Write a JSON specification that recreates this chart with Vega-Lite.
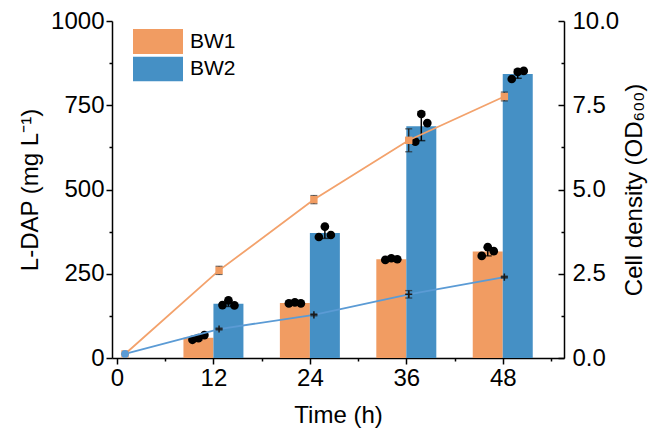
{
  "$schema": "https://vega.github.io/schema/vega-lite/v6.json",
  "width": 452,
  "height": 337,
  "autosize": {"type": "none"},
  "padding": {"left": 112, "top": 21, "right": 98, "bottom": 81},
  "config": {
    "font": "Liberation Sans",
    "view": {"stroke": null},
    "axis": {
      "grid": false,
      "domainColor": "black",
      "tickColor": "black",
      "labelColor": "black",
      "titleColor": "black",
      "labelFont": "Liberation Sans",
      "titleFont": "Liberation Sans",
      "labelFontSize": 24,
      "titleFontSize": 24,
      "titleFontWeight": "normal",
      "domainWidth": 1.5,
      "tickWidth": 1.5,
      "labelFlush": false,
      "labelOverlap": false
    },
    "legend": {"labelFont": "Liberation Sans"}
  },
  "datasets": {
    "bars": [
      {"time": 12, "strain": "BW1", "ldap": 60, "lo": 53, "hi": 67},
      {"time": 12, "strain": "BW2", "ldap": 161, "lo": 153, "hi": 169},
      {"time": 24, "strain": "BW1", "ldap": 163, "lo": 161, "hi": 165},
      {"time": 24, "strain": "BW2", "ldap": 371, "lo": 355, "hi": 387},
      {"time": 36, "strain": "BW1", "ldap": 293, "lo": 290, "hi": 296},
      {"time": 36, "strain": "BW2", "ldap": 688, "lo": 645, "hi": 731},
      {"time": 48, "strain": "BW1", "ldap": 316, "lo": 303, "hi": 329},
      {"time": 48, "strain": "BW2", "ldap": 843, "lo": 830, "hi": 856}
    ],
    "reps": [
      {"time": 12, "strain": "BW1", "rep": 1, "ldap": 54},
      {"time": 12, "strain": "BW1", "rep": 2, "ldap": 59},
      {"time": 12, "strain": "BW1", "rep": 3, "ldap": 68},
      {"time": 12, "strain": "BW2", "rep": 1, "ldap": 157},
      {"time": 12, "strain": "BW2", "rep": 2, "ldap": 171},
      {"time": 12, "strain": "BW2", "rep": 3, "ldap": 156},
      {"time": 24, "strain": "BW1", "rep": 1, "ldap": 162},
      {"time": 24, "strain": "BW1", "rep": 2, "ldap": 165},
      {"time": 24, "strain": "BW1", "rep": 3, "ldap": 162},
      {"time": 24, "strain": "BW2", "rep": 1, "ldap": 359},
      {"time": 24, "strain": "BW2", "rep": 2, "ldap": 390},
      {"time": 24, "strain": "BW2", "rep": 3, "ldap": 365},
      {"time": 36, "strain": "BW1", "rep": 1, "ldap": 291},
      {"time": 36, "strain": "BW1", "rep": 2, "ldap": 296},
      {"time": 36, "strain": "BW1", "rep": 3, "ldap": 293},
      {"time": 36, "strain": "BW2", "rep": 1, "ldap": 642},
      {"time": 36, "strain": "BW2", "rep": 2, "ldap": 724},
      {"time": 36, "strain": "BW2", "rep": 3, "ldap": 697},
      {"time": 48, "strain": "BW1", "rep": 1, "ldap": 303},
      {"time": 48, "strain": "BW1", "rep": 2, "ldap": 329},
      {"time": 48, "strain": "BW1", "rep": 3, "ldap": 317},
      {"time": 48, "strain": "BW2", "rep": 1, "ldap": 828},
      {"time": 48, "strain": "BW2", "rep": 2, "ldap": 849},
      {"time": 48, "strain": "BW2", "rep": 3, "ldap": 852}
    ],
    "od": [
      {"time": 1, "strain": "BW1", "od": 0.12, "lo": 0.12, "hi": 0.12},
      {"time": 12.7, "strain": "BW1", "od": 2.6, "lo": 2.48, "hi": 2.72},
      {"time": 24.5, "strain": "BW1", "od": 4.7, "lo": 4.58, "hi": 4.82},
      {"time": 36.3, "strain": "BW1", "od": 6.46, "lo": 6.12, "hi": 6.8},
      {"time": 48.2, "strain": "BW1", "od": 7.76, "lo": 7.63, "hi": 7.89},
      {"time": 1, "strain": "BW2", "od": 0.12, "lo": 0.12, "hi": 0.12},
      {"time": 12.7, "strain": "BW2", "od": 0.86, "lo": 0.83, "hi": 0.89},
      {"time": 24.5, "strain": "BW2", "od": 1.28, "lo": 1.25, "hi": 1.31},
      {"time": 36.3, "strain": "BW2", "od": 1.89, "lo": 1.78, "hi": 2.0},
      {"time": 48.2, "strain": "BW2", "od": 2.4, "lo": 2.37, "hi": 2.43}
    ]
  },
  "layer": [
    {
      "data": {"name": "bars"},
      "mark": {"type": "bar", "width": 30, "xOffset": {"expr": "datum.strain === 'BW1' ? -15 : 15"}},
      "encoding": {
        "x": {"field": "time", "type": "quantitative", "scale": {"domain": [0, 55], "nice": false, "zero": false},
          "axis": {"orient": "bottom", "values": [0, 12, 24, 36, 48], "title": "Time (h)", "tickSize": 6, "labelPadding": 2, "titlePadding": 13}},
        "y": {"field": "ldap", "type": "quantitative", "stack": null, "scale": {"domain": [0, 1000], "nice": false},
          "axis": {"orient": "left", "values": [0, 250, 500, 750, 1000], "format": "d", "title": "L-DAP (mg L⁻¹)", "tickSize": 6, "labelPadding": 2, "titlePadding": 8}},
        "color": {"field": "strain", "type": "nominal", "scale": {"domain": ["BW1", "BW2"], "range": ["#F19C62", "#4590C5"]},
          "legend": {"orient": "none", "legendX": 21, "legendY": 8, "title": null, "symbolType": "M-1,-0.5H1V0.5H-1Z", "symbolSize": 2500, "symbolStrokeWidth": 0, "clipHeight": 25, "labelFontSize": 21, "labelOffset": 7, "rowPadding": 2.5, "padding": 0, "labelColor": "black"}}
      }
    },
    {
      "data": {"name": "bars"},
      "mark": {"type": "point", "opacity": 0},
      "encoding": {
        "x": {"field": "time", "type": "quantitative", "scale": {"domain": [0, 55], "nice": false, "zero": false},
          "axis": {"orient": "bottom", "values": [6, 18, 30, 42, 54], "title": null, "labels": false, "domain": false, "tickSize": 3}},
        "y": {"field": "ldap", "type": "quantitative", "scale": {"domain": [0, 1000], "nice": false},
          "axis": {"orient": "left", "values": [125, 375, 625, 875], "title": null, "labels": false, "domain": false, "tickSize": 3}}
      }
    },
    {
      "data": {"name": "bars"},
      "mark": {"type": "rule", "color": "black", "strokeWidth": 1.5, "xOffset": {"expr": "datum.strain === 'BW1' ? -15 : 15"}},
      "encoding": {
        "x": {"field": "time", "type": "quantitative", "axis": null},
        "y": {"field": "lo", "type": "quantitative", "scale": {"domain": [0, 1000], "nice": false}, "axis": null},
        "y2": {"field": "hi"}
      }
    },
    {
      "data": {"name": "bars"},
      "transform": [{"fold": ["lo", "hi"], "as": ["k", "v"]}],
      "mark": {"type": "tick", "orient": "horizontal", "color": "black", "size": 8, "thickness": 1.5, "xOffset": {"expr": "datum.strain === 'BW1' ? -15 : 15"}},
      "encoding": {
        "x": {"field": "time", "type": "quantitative", "axis": null},
        "y": {"field": "v", "type": "quantitative", "scale": {"domain": [0, 1000], "nice": false}, "axis": null}
      }
    },
    {
      "data": {"name": "reps"},
      "mark": {"type": "point", "filled": true, "color": "black", "opacity": 1, "size": 75, "xOffset": {"expr": "(datum.strain === 'BW1' ? -15 : 15) + (datum.rep - 2) * 6"}},
      "encoding": {
        "x": {"field": "time", "type": "quantitative", "axis": null},
        "y": {"field": "ldap", "type": "quantitative", "scale": {"domain": [0, 1000], "nice": false}, "axis": null}
      }
    },
    {
      "data": {"name": "od"},
      "mark": {"type": "line", "strokeWidth": 1.8},
      "encoding": {
        "x": {"field": "time", "type": "quantitative", "axis": null},
        "y": {"field": "od", "type": "quantitative", "scale": {"domain": [0, 10], "nice": false},
          "axis": {"orient": "right", "values": [0, 2.5, 5, 7.5, 10], "format": ".1f", "title": "Cell density (OD₆₀₀)", "titleAngle": 270, "titleBaseline": "top", "tickSize": -6, "labelPadding": 14, "titlePadding": 4}},
        "stroke": {"field": "strain", "type": "nominal", "scale": {"domain": ["BW1", "BW2"], "range": ["#F3A26C", "#5B9BD5"]}, "legend": null}
      }
    },
    {
      "data": {"name": "od"},
      "mark": {"type": "point", "opacity": 0},
      "encoding": {
        "x": {"field": "time", "type": "quantitative", "axis": null},
        "y": {"field": "od", "type": "quantitative", "scale": {"domain": [0, 10], "nice": false},
          "axis": {"orient": "right", "values": [1.25, 3.75, 6.25, 8.75], "title": null, "labels": false, "domain": false, "tickSize": -3}}
      }
    },
    {
      "data": {"name": "od"},
      "mark": {"type": "rule", "color": "#222222", "strokeWidth": 1.3},
      "encoding": {
        "x": {"field": "time", "type": "quantitative", "axis": null},
        "y": {"field": "lo", "type": "quantitative", "scale": {"domain": [0, 10], "nice": false}, "axis": null},
        "y2": {"field": "hi"}
      }
    },
    {
      "data": {"name": "od"},
      "transform": [{"fold": ["lo", "hi"], "as": ["k", "v"]}],
      "mark": {"type": "tick", "orient": "horizontal", "color": "#222222", "size": 7, "thickness": 1.3},
      "encoding": {
        "x": {"field": "time", "type": "quantitative", "axis": null},
        "y": {"field": "v", "type": "quantitative", "scale": {"domain": [0, 10], "nice": false}, "axis": null}
      }
    },
    {
      "data": {"name": "od"},
      "transform": [{"filter": "datum.strain === 'BW1'"}],
      "mark": {"type": "point", "shape": "square", "filled": true, "color": "#F19C62", "opacity": 1, "size": 55},
      "encoding": {
        "x": {"field": "time", "type": "quantitative", "axis": null},
        "y": {"field": "od", "type": "quantitative", "scale": {"domain": [0, 10], "nice": false}, "axis": null}
      }
    },
    {
      "data": {"name": "od"},
      "transform": [{"filter": "datum.strain === 'BW2' && datum.time > 5"}],
      "mark": {"type": "point", "shape": "M-1,0H1M0,-1V1", "filled": false, "color": "#1a1a1a", "strokeWidth": 1.5, "opacity": 1, "size": 50},
      "encoding": {
        "x": {"field": "time", "type": "quantitative", "axis": null},
        "y": {"field": "od", "type": "quantitative", "scale": {"domain": [0, 10], "nice": false}, "axis": null}
      }
    },
    {
      "data": {"name": "od"},
      "transform": [{"filter": "datum.strain === 'BW2' && datum.time < 5"}],
      "mark": {"type": "point", "shape": "circle", "filled": true, "color": "#5B9BD5", "opacity": 1, "size": 60},
      "encoding": {
        "x": {"field": "time", "type": "quantitative", "axis": null},
        "y": {"field": "od", "type": "quantitative", "scale": {"domain": [0, 10], "nice": false}, "axis": null}
      }
    }
  ],
  "resolve": {"scale": {"y": "independent"}, "axis": {"x": "independent"}}
}
